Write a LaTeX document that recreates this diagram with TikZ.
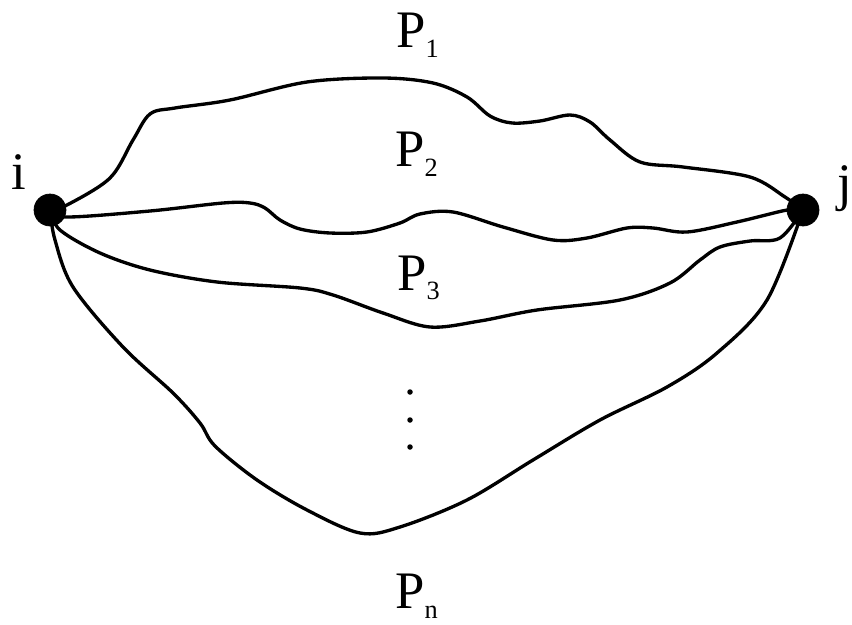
\documentclass[tikz,border=0pt]{standalone}
\usepackage{fontspec}
\setmainfont{Liberation Serif}
\usepackage{tikz}
\usetikzlibrary{positioning}
\tikzset{
  vertex/.style={circle,fill=black,draw=black,inner sep=0pt,minimum size=0.64cm},
  pathline/.style={draw=black,line width=1.9pt,line join=round},
  plabel/.style={inner sep=0pt,anchor=base west,font=\fontsize{30}{34}\selectfont},
  vlabel/.style={inner sep=0pt,anchor=base,font=\fontsize{30}{34}\selectfont},
  gapdot/.style={circle,fill=black,inner sep=0pt,minimum size=0.11cm},
}
\newcommand{\pth}[1]{P\raisebox{-0.2cm}{\fontsize{15}{15}\selectfont #1}}

\begin{document}
\begin{tikzpicture}[x=0.02cm,y=-0.02cm]
  \useasboundingbox (0,0) rectangle (852,625);

  \coordinate (ic) at (50,210);
  \coordinate (jc) at (803,210);

  \draw[pathline] plot[smooth,tension=0.55] coordinates {(ic) (67,205) (110,178) (133,140) (150,114) (175,108) (230,100) (307,82) (383,78) (433,83) (467,97) (490,116) (512,123) (540,121) (570,115) (590,122) (610,140) (640,162) (683,167) (750,177) (785,197) (jc)};
  \draw[pathline] plot[smooth,tension=0.55] coordinates {(ic) (67,217) (150,211) (223,203) (250,203) (265,208) (280,220) (300,229) (330,233) (367,232) (400,223) (420,214) (453,212) (503,227) (553,240) (587,238) (627,228) (653,228) (687,232) (737,222) (787,210) (jc)};
  \draw[pathline] plot[smooth,tension=0.55] coordinates {(ic) (60,230) (100,253) (150,270) (217,282) (300,288) (333,295) (383,313) (430,327) (480,321) (537,310) (620,300) (670,283) (700,260) (720,247) (750,241) (780,238) (jc)};
  \draw[pathline] plot[smooth,tension=0.55] coordinates {(ic) (55,240) (73,287) (123,347) (173,393) (200,423) (215,446) (257,480) (307,510) (360,533) (400,527) (467,500) (533,460) (600,420) (667,387) (717,353) (767,300) (jc)};

  \node[vertex] (i) at (ic) {};
  \node[vertex] (j) at (jc) {};
  \node[vlabel] (ilab) at (19,190) {i};
  \node[vlabel] (jlab) at (845,200) {j};

  \node[plabel] (p1) at (396,48) {\pth{1}};
  \node[plabel] (p2) at (395,167) {\pth{2}};
  \node[plabel] (p3) at (397,290) {\pth{3}};
  \node[plabel] (pn) at (395,608) {\pth{n}};

  \node[gapdot] (d1) at (410,392) {};
  \node[gapdot] (d2) at (410,420) {};
  \node[gapdot] (d3) at (410,447) {};
\end{tikzpicture}
\end{document}
